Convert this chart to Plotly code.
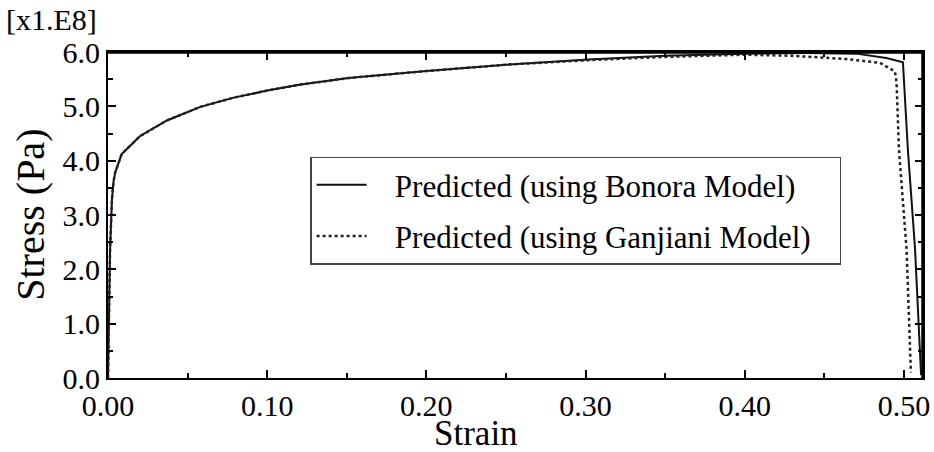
import plotly.graph_objects as go

# Bonora model (solid)
strain_bonora = [0, 0.0005, 0.0013, 0.0025, 0.0035, 0.0045, 0.0086, 0.02, 0.037, 0.058, 0.079,
                 0.10, 0.121, 0.151, 0.20, 0.252, 0.302, 0.35, 0.40, 0.44, 0.47, 0.489,
                 0.4994, 0.5025, 0.507, 0.5108]
stress_bonora = [0, 1.0, 2.36, 3.3, 3.62, 3.78, 4.12, 4.45, 4.74, 4.99, 5.16,
                 5.29, 5.40, 5.52, 5.65, 5.77, 5.86, 5.93, 5.97, 5.98, 5.97, 5.89,
                 5.81, 4.2, 2.38, 0.05]

# Ganjiani model (dotted)
strain_ganjiani = [0, 0.0005, 0.0013, 0.0025, 0.0035, 0.0045, 0.0086, 0.02, 0.037, 0.058, 0.079,
                   0.10, 0.121, 0.151, 0.20, 0.252, 0.302, 0.35, 0.40, 0.43, 0.464, 0.485,
                   0.4944, 0.4954, 0.4962, 0.4969, 0.5017, 0.5044]
stress_ganjiani = [0, 1.0, 2.36, 3.3, 3.62, 3.78, 4.12, 4.45, 4.74, 4.99, 5.16,
                   5.29, 5.40, 5.52, 5.65, 5.77, 5.85, 5.91, 5.95, 5.93, 5.87, 5.80,
                   5.64, 5.43, 4.9, 4.2, 2.36, 0.1]

x_ticks = [0.0, 0.1, 0.2, 0.3, 0.4, 0.5]
x_ticklabels = ["0.00", "0.10", "0.20", "0.30", "0.40", "0.50"]
y_ticks = [0, 1, 2, 3, 4, 5, 6]
y_ticklabels = ["0.0", "1.0", "2.0", "3.0", "4.0", "5.0", "6.0"]

FONT = "Liberation Serif"
NB = "\u00a0"

fig = go.Figure()
fig.add_trace(go.Scatter(x=strain_bonora, y=stress_bonora, mode="lines",
                         name=NB * 3 + "Predicted (using Bonora Model)" + NB * 5, legendgroup="a",
                         line=dict(color="#111111", width=2)))
fig.add_trace(go.Scatter(x=strain_ganjiani, y=stress_ganjiani, mode="lines",
                         name=NB * 3 + "Predicted (using Ganjiani Model)" + NB * 3, legendgroup="b",
                         line=dict(color="#222222", width=2.5, dash="dot")))

axis_common = dict(
    showline=True, linecolor="black", linewidth=2, mirror="allticks",
    ticks="inside", ticklen=8, tickwidth=2, tickcolor="black",
    showgrid=False, zeroline=False,
    tickfont=dict(family=FONT, size=30, color="black"),
)

fig.update_xaxes(range=[0, 0.512], tickvals=x_ticks, ticktext=x_ticklabels,
                 minor=dict(ticks="inside", ticklen=5, tickwidth=1.5, dtick=0.05, tick0=0,
                            tickcolor="black"),
                 **axis_common)
fig.update_yaxes(range=[0, 6.0], tickvals=y_ticks, ticktext=y_ticklabels,
                 minor=dict(ticks="inside", ticklen=5, tickwidth=1.5, dtick=0.5, tick0=0,
                            tickcolor="black"),
                 **axis_common)

# axis titles
fig.add_annotation(text="Strain", xref="paper", yref="paper", x=0.452, y=-0.232,
                   xanchor="center", yanchor="bottom", showarrow=False, borderpad=0,
                   font=dict(family=FONT, size=35, color="black"))
fig.add_annotation(text="Stress (Pa)", xref="paper", yref="paper", x=-0.096, y=0.5,
                   xanchor="center", yanchor="middle", showarrow=False, textangle=-90,
                   font=dict(family=FONT, size=40, color="black"))

fig.add_annotation(text="[x1.E8]", xref="paper", yref="paper", x=-0.128, y=1.10,
                   xanchor="left", yanchor="middle", showarrow=False,
                   font=dict(family=FONT, size=30, color="black"))

# thicker top and right frame
fig.add_shape(type="line", xref="paper", yref="paper", x0=0, x1=1, y0=1, y1=1,
              line=dict(color="black", width=3.5))
fig.add_shape(type="line", xref="paper", yref="paper", x0=1, x1=1, y0=0, y1=1,
              line=dict(color="black", width=3.5))

fig.update_layout(
    width=934, height=452,
    margin=dict(l=108, r=11, t=52, b=74, autoexpand=False),
    paper_bgcolor="white", plot_bgcolor="white",
    showlegend=True,
    legend=dict(x=0.248, y=0.679, xanchor="left", yanchor="top",
                bgcolor="white", bordercolor="#444444", borderwidth=1.5,
                font=dict(family=FONT, size=31, color="black"),
                itemwidth=50, tracegroupgap=8),
)

fig.write_html("out.html")
